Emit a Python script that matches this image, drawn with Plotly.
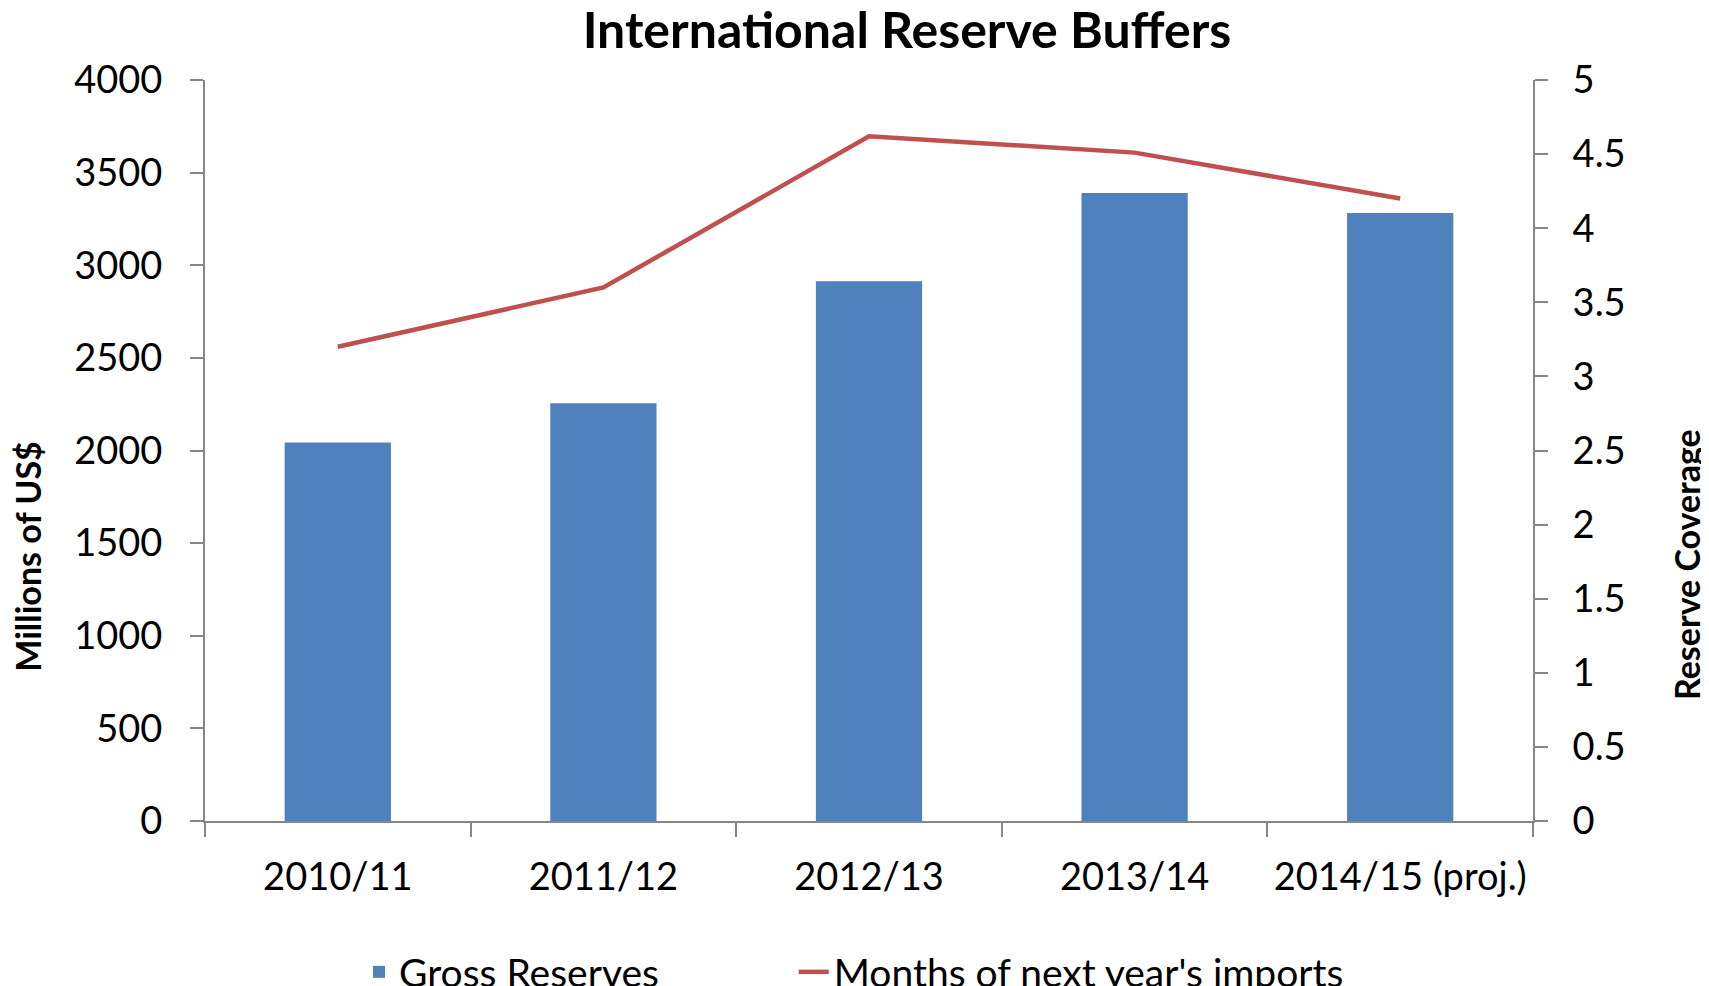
import plotly.graph_objects as go

years = ["2010/11", "2011/12", "2012/13", "2013/14", "2014/15 (proj.)"]
gross_reserves = [2043, 2255, 2914, 3390, 3282]
months_imports = [3.20, 3.60, 4.62, 4.51, 4.20]

FONT = "Lato, Carlito, 'Open Sans', sans-serif"
AXIS_GREY = "#868686"
PAD = "\u00a0" * 13  # spacing between the two legend entries

fig = go.Figure()

fig.add_trace(go.Bar(
    x=years,
    y=gross_reserves,
    name="Gross Reserves" + PAD,
    marker=dict(color="#4F81BD", line=dict(width=0)),
    width=0.4,
))

fig.add_trace(go.Scatter(
    x=years,
    y=months_imports,
    name="Months of next year's imports",
    mode="lines",
    line=dict(color="#C0504D", width=4.5),
    yaxis="y2",
))

# page is drawn with an 8px body offset, so margins are nudged to compensate
fig.update_layout(
    width=1709,
    height=986,
    margin=dict(l=197, r=184, t=72, b=173),
    plot_bgcolor="white",
    paper_bgcolor="white",
    font=dict(family=FONT, size=38, color="black"),
    title=dict(
        text="<b>International Reserve Buffers</b>",
        x=(907 - 8) / 1709, xanchor="center",
        y=1 - 22 / 986, yanchor="middle",
        font=dict(size=50),
    ),
    showlegend=True,
    legend=dict(
        orientation="h",
        xref="container", yref="container",
        x=351 / 1709, xanchor="left",
        y=1 - 964 / 986, yanchor="middle",
        font=dict(size=39),
        bgcolor="rgba(0,0,0,0)",
    ),
)

fig.update_xaxes(
    type="category",
    showline=True, linecolor=AXIS_GREY, linewidth=2,
    ticks="outside", ticklen=14, tickcolor=AXIS_GREY, tickwidth=2,
    tickson="boundaries",
    ticklabelstandoff=21,
    showgrid=False,
)

fig.update_layout(
    yaxis=dict(
        range=[0, 4000], dtick=500,
        showline=True, linecolor=AXIS_GREY, linewidth=2,
        ticks="outside", ticklen=13, tickcolor=AXIS_GREY, tickwidth=2,
        ticklabelstandoff=20,
        showgrid=False, zeroline=False, automargin=False,
    ),
    yaxis2=dict(
        range=[0, 5], dtick=0.5,
        overlaying="y", side="right",
        showline=True, linecolor=AXIS_GREY, linewidth=2,
        ticks="outside", ticklen=13, tickcolor=AXIS_GREY, tickwidth=2,
        ticklabelstandoff=17,
        showgrid=False, zeroline=False, automargin=False,
    ),
)

# axis titles sit lower than the axis middle, as in the original
fig.add_annotation(
    text="<b>Millions of US$</b>", textangle=-90,
    xref="paper", yref="paper", x=-0.1333, y=0.358,
    xanchor="center", yanchor="middle", showarrow=False,
    font=dict(size=34),
)
fig.add_annotation(
    text="<b>Reserve Coverage</b>", textangle=-90,
    xref="paper", yref="paper", x=1.1152, y=0.3468,
    xanchor="center", yanchor="middle", showarrow=False,
    font=dict(size=34),
)

fig.write_html("out.html")
